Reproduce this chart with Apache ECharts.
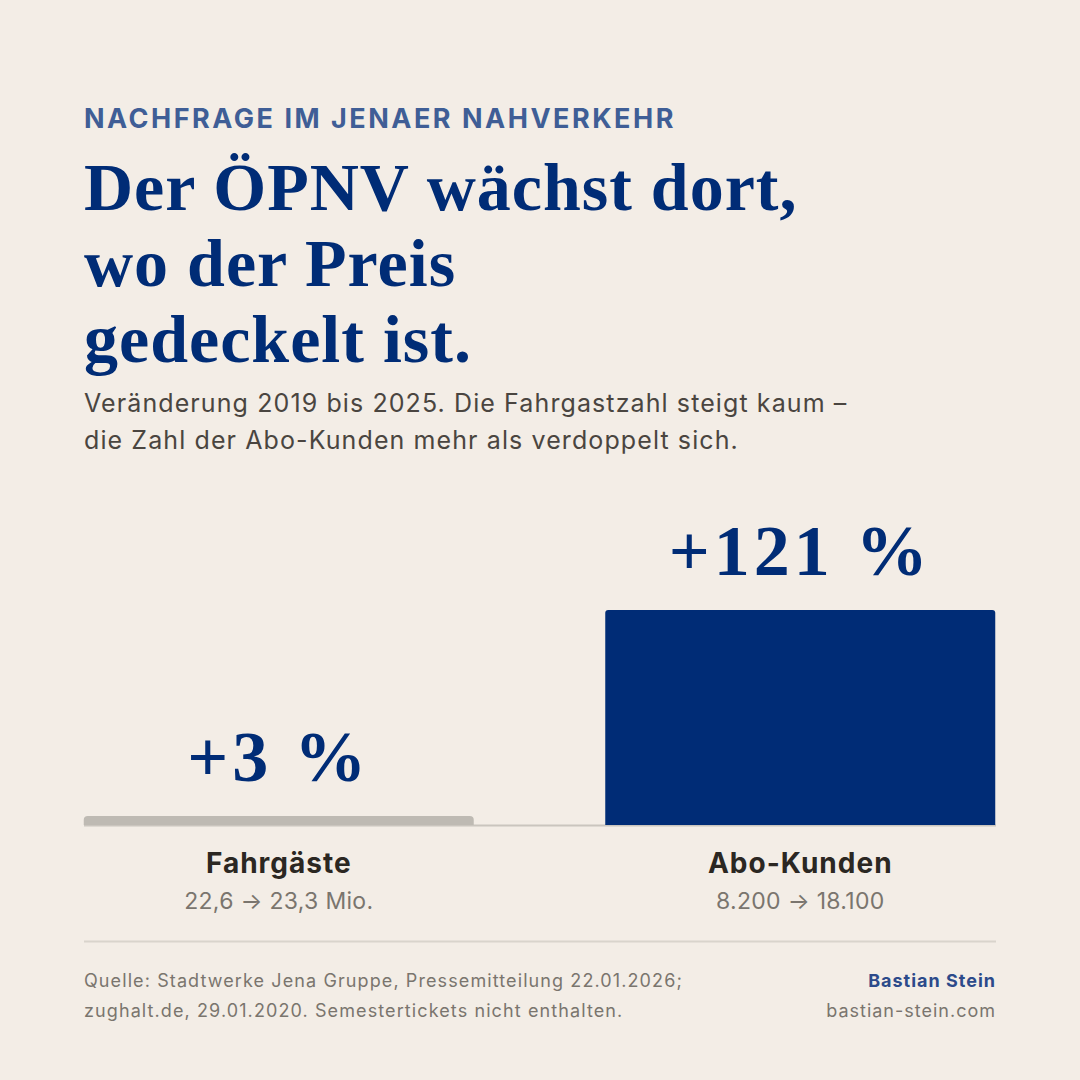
<!DOCTYPE html>
<html>
<head>
<meta charset="utf-8">
<script src="https://cdn.jsdelivr.net/npm/echarts@6/dist/echarts.min.js"></script>
<style>
html,body{margin:0;padding:0;background:#f3ede6;}
#chart{width:1080px;height:1080px;}
</style>
</head>
<body>
<div id="chart"></div>
<script>
// Daten: Veränderung 2019 -> 2025
var kategorien = ['Fahrgäste', 'Abo-Kunden'];
var veraenderung = [3, 121];          // Prozent
var details = ['22,6 → 23,3 Mio.', '8.200 → 18.100'];

var barFarben = ['#bebab3', '#002c76'];
var serif = '"Liberation Serif", "DejaVu Serif", serif';
var sans = 'Inter, "Noto Sans", sans-serif';

var kicker = 'NACHFRAGE IM JENAER NAHVERKEHR';
var titelZeilen = ['Der ÖPNV wächst dort,', 'wo der Preis', 'gedeckelt ist.'];
var unterZeilen = ['Veränderung 2019 bis 2025. Die Fahrgastzahl steigt kaum –',
                   'die Zahl der Abo-Kunden mehr als verdoppelt sich.'];
var quelleZeilen = ['Quelle: Stadtwerke Jena Gruppe, Pressemitteilung 22.01.2026;',
                    'zughalt.de, 29.01.2020. Semestertickets nicht enthalten.'];

// Laufweite (px) je Text, wird nach dem Rendern im SVG gesetzt
function laufweite(text) {
    if (text === kicker) return 2.5;
    if (titelZeilen.indexOf(text) >= 0) return 1;
    if (unterZeilen.indexOf(text) >= 0) return 1.1;
    if (quelleZeilen.indexOf(text) >= 0) return 1.1;
    if (text === 'Bastian Stein' || text === 'bastian-stein.com') return 1;
    if (kategorien.indexOf(text) >= 0) return 1;
    if (details.indexOf(text) >= 0) return 0.3;
    if (text.charAt(0) === '+') return 4;
    return 0;
}

function initChart(div_id){
    var dom = document.getElementById(div_id);
    var myChart = echarts.init(dom, null, {renderer: 'svg'});
    var option = {
        backgroundColor: '#f3ede6',
        animation: false,
        title: [
            {
                text: kicker,
                left: 84, top: 105, padding: 0,
                textStyle: {fontFamily: sans, fontSize: 27, fontWeight: 700, color: '#3f5e96'}
            },
            {
                text: titelZeilen.join('\n'),
                left: 84, top: 149, padding: 0,
                textStyle: {fontFamily: serif, fontSize: 68, fontWeight: 700, color: '#002c76', lineHeight: 76}
            },
            {
                text: unterZeilen.join('\n'),
                left: 84, top: 384, padding: 0,
                textStyle: {fontFamily: sans, fontSize: 25, fontWeight: 400, color: '#4a4540', lineHeight: 37}
            }
        ],
        grid: {left: 18, right: 19, top: 610, bottom: 255},
        xAxis: {
            type: 'category',
            data: kategorien,
            axisLine: {show: false},
            axisTick: {show: false},
            axisLabel: {
                margin: 19,
                formatter: function (val, idx) {
                    return '{a|' + val + '}\n{b|' + details[idx] + '}';
                },
                rich: {
                    a: {fontFamily: sans, fontSize: 28, fontWeight: 700, color: '#2b2722', lineHeight: 38},
                    b: {fontFamily: sans, fontSize: 23, fontWeight: 400, color: '#7a756e', lineHeight: 38}
                }
            }
        },
        yAxis: {
            type: 'value',
            min: 0, max: 121,
            show: false,
            splitLine: {show: false}
        },
        series: [{
            type: 'bar',
            z: 3,
            barWidth: 390,
            barMinHeight: 9,
            data: veraenderung.map(function (v, i) {
                return {
                    value: v,
                    itemStyle: {color: barFarben[i], borderRadius: i === 0 ? [4, 4, 0, 0] : [3, 3, 0, 0]}
                };
            }),
            label: {
                show: true,
                position: 'top',
                distance: 23,
                formatter: function (p) { return '+' + p.value + ' %'; },
                fontFamily: serif,
                fontSize: 72,
                fontWeight: 700,
                color: '#002c76'
            }
        }],
        graphic: [
            // Grundlinie
            {type: 'line', z: 1, shape: {x1: 84, y1: 825.5, x2: 996, y2: 825.5},
             style: {stroke: '#cac5be', lineWidth: 2}},
            // Trennlinie
            {type: 'line', shape: {x1: 84, y1: 941.5, x2: 996, y2: 941.5},
             style: {stroke: '#d9d4cc', lineWidth: 2}},
            {type: 'text', x: 84, y: 965,
             style: {text: quelleZeilen.join('\n'), font: '400 18px ' + sans, fill: '#7a756e', lineHeight: 30}},
            {type: 'text', x: 996, y: 965,
             style: {text: 'Bastian Stein', font: '700 18px ' + sans, fill: '#2c4a8a', lineHeight: 30, align: 'right'}},
            {type: 'text', x: 996, y: 995,
             style: {text: 'bastian-stein.com', font: '400 18px ' + sans, fill: '#7a756e', lineHeight: 30, align: 'right'}}
        ]
    };
    myChart.setOption(option);

    function setzeLaufweite() {
        var texte = dom.querySelectorAll('svg text');
        for (var i = 0; i < texte.length; i++) {
            var ls = laufweite(texte[i].textContent);
            if (ls) texte[i].style.letterSpacing = ls + 'px';
        }
    }
    myChart.on('finished', setzeLaufweite);
    setTimeout(setzeLaufweite, 50);
}

initChart('chart');
</script>
</body>
</html>
